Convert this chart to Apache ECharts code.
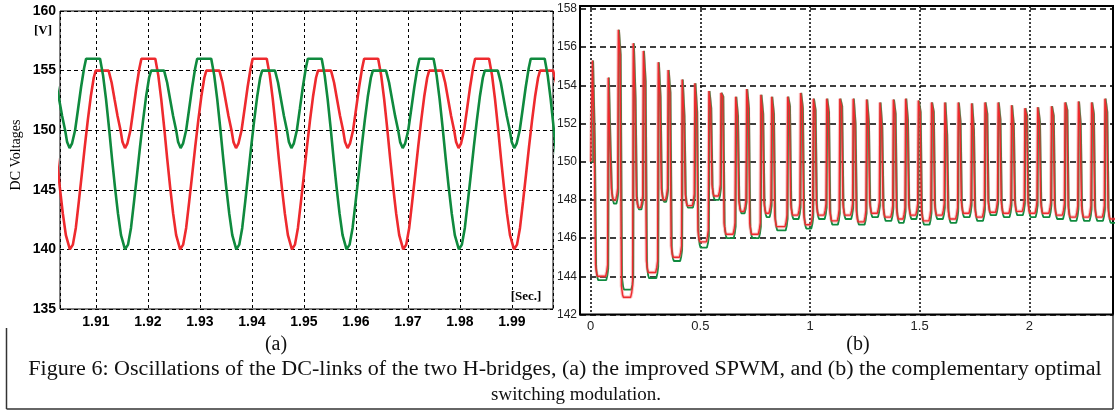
<!DOCTYPE html>
<html>
<head>
<meta charset="utf-8">
<script src="https://cdn.jsdelivr.net/npm/echarts@6/dist/echarts.min.js"></script>
<style>
    html, body { margin: 0; padding: 0; background: #fff; }
    #chart { width: 1115px; height: 413px; }
</style>
</head>
<body>
<div id="chart"></div>
<script>
// (a) improved SPWM - one ripple period,
// offsets in ms after a deep minimum, values in V
const tplOffsetMs = [0, 0.58, 1.15, 1.73, 2.31, 2.88, 3.46, 4.04, 4.62, 5.0,
    7.5, 8.08, 8.65, 9.23, 9.81, 10.19, 10.67,
    11.15, 11.73, 12.31, 12.88, 13.46, 13.85,
    16.54, 17.12, 17.69, 18.27, 18.85, 19.42, 20.0, 20.58, 21.35];
const tplVolt = [140.0, 140.4, 141.8, 144.0, 146.3, 148.6, 150.8, 152.8, 154.4, 155.0,
    155.0, 154.0, 152.6, 151.2, 150.0, 149.0, 148.5,
    148.9, 150.0, 151.8, 153.6, 155.2, 156.0,
    156.0, 154.6, 152.6, 150.2, 147.6, 145.2, 143.0, 141.2, 140.0];
// times of the deep (140 V) minima of each bridge
const redDeepMin = [1.8836, 1.9050, 1.9262, 1.9477, 1.9691, 1.9904, 2.0118];
const greenDeepMin = [1.8943, 1.9156, 1.9370, 1.9582, 1.9798, 2.0011];

// (b) complementary optimal switching - one entry per pulse
const pulseRise = [0.008, 0.080, 0.126, 0.194, 0.240, 0.308, 0.353, 0.417, 0.475, 0.539,
    0.594, 0.661, 0.711, 0.776, 0.825, 0.898, 0.957, 1.015, 1.076, 1.136,
    1.197, 1.258, 1.319, 1.380, 1.436, 1.494, 1.554, 1.615, 1.676, 1.737,
    1.798, 1.858, 1.919, 1.980, 2.038, 2.101, 2.163, 2.224, 2.284, 2.345];
const pulsePeak = [155.3, 154.4, 156.9, 156.2, 155.8, 155.2, 154.8, 154.3, 154.1, 153.7,
    153.6, 153.4, 153.8, 153.5, 153.4, 153.4, 153.6, 153.3, 153.3, 153.3,
    153.3, 153.25, 153.1, 153.25, 153.3, 153.2, 153.1, 153.1, 153.1, 153.05,
    153.1, 153.1, 152.95, 152.8, 152.85, 152.9, 153.1, 153.15, 153.1, 153.3];
const pulseShoulder = [151.2, 150.8, 155.6, 153.3, 154.2, 153.4, 153.6, 152.4, 152.6, 152.8,
    153.4, 152.4, 152.8, 152.5, 152.5, 152.9, 152.8, 152.7, 152.6, 152.9,
    152.0, 152.1, 151.8, 152.5, 152.2, 152.6, 152.6, 151.4, 152.1, 151.7,
    152.5, 152.2, 151.9, 152.4, 152.1, 152.4, 152.7, 152.0, 152.5, 152.6];
const redDip = [144.0, 148.0, 142.9, 147.6, 144.2, 148.0, 145.0, 147.7, 145.8, 148.2,
    146.2, 147.4, 146.2, 147.3, 146.6, 147.2, 146.7, 147.2, 146.9, 147.2,
    146.85, 147.3, 147.1, 147.0, 147.2, 146.9, 147.2, 147.0, 147.3, 147.1,
    147.35, 147.3, 147.4, 147.3, 147.3, 147.2, 147.1, 147.1, 147.1, 147.0];
const greenDip = [143.8, 147.8, 143.3, 147.5, 143.9, 147.9, 144.8, 147.6, 145.5, 148.0,
    146.0, 147.3, 146.0, 147.1, 146.4, 147.0, 146.5, 147.0, 146.7, 147.0,
    146.7, 147.1, 146.9, 146.8, 147.0, 146.7, 147.0, 146.8, 147.1, 146.9,
    147.2, 147.1, 147.2, 147.1, 147.1, 147.0, 146.9, 146.9, 146.9, 146.8];

const RED = '#ee2a2e';
const GREEN = '#0f8a3e';

// lay the read period between each pair of minima
function rippleCurve(minima) {
    const pts = [];
    for (let i = 0; i < minima.length - 1; i++) {
        const a = minima[i];
        const scale = (minima[i + 1] - a) / (tplOffsetMs[tplOffsetMs.length - 1] / 1000);
        for (let j = 0; j < tplOffsetMs.length - 1; j++) {
            pts.push([a + tplOffsetMs[j] / 1000 * scale, tplVolt[j]]);
        }
    }
    pts.push([minima[minima.length - 1], tplVolt[0]]);
    return pts;
}

function pulseTrain(dip, shift) {
    const pts = [[0, 150]];
    for (let i = 0; i < pulseRise.length; i++) {
        const r = pulseRise[i] + shift;
        const next = i + 1 < pulseRise.length ? pulseRise[i + 1] + shift : 2.41;
        const before = i === 0 ? 150 : dip[i - 1] + 0.6;
        pts.push([r, before], [r, pulsePeak[i]], [r + 0.008, pulsePeak[i]],
            [r + 0.008, pulseShoulder[i]], [r + 0.014, pulseShoulder[i]],
            [r + 0.014, dip[i] + 0.6], [r + 0.019, dip[i] + 0.15], [r + 0.023, dip[i]],
            [next - 0.012, dip[i]], [next - 0.007, dip[i] + 0.25], [next - 0.003, dip[i] + 0.6]);
    }
    return pts;
}

const chart = echarts.init(document.getElementById('chart'));

const serifFont = '"Liberation Serif", "Times New Roman", serif';
const sansFont = '"Liberation Sans", Arial, sans-serif';

const option = {
    animation: false,
    backgroundColor: '#fff',
    grid: [
        { left: 60, top: 11, width: 493, height: 298, show: true, borderColor: '#000', borderWidth: 1 },
        { left: 580, top: 6, width: 533, height: 308.5, show: true, borderColor: '#000', borderWidth: 2 }
    ],
    xAxis: [
        {
            gridIndex: 0, type: 'value', min: 1.9031, max: 1.9979,
            splitNumber: 10, minInterval: 0.01, maxInterval: 0.01,
            axisLine: { show: false }, axisTick: { show: false },
            axisLabel: {
                showMinLabel: false, showMaxLabel: false, margin: 6,
                formatter: v => v.toFixed(2),
                fontFamily: sansFont, fontWeight: 'bold', fontSize: 14, color: '#000'
            },
            splitLine: { lineStyle: { color: '#000', type: [3, 3], width: 1 } }
        },
        {
            gridIndex: 1, type: 'value', min: -0.0488, max: 2.3817,
            splitNumber: 5, minInterval: 0.5, maxInterval: 0.5,
            axisLine: { show: false }, axisTick: { show: false },
            axisLabel: {
                showMinLabel: false, showMaxLabel: false, margin: 5,
                fontFamily: sansFont, fontSize: 13, color: '#222'
            },
            splitLine: { lineStyle: { color: '#000', type: [2, 2], width: 1.5 } }
        }
    ],
    yAxis: [
        {
            gridIndex: 0, type: 'value', min: 135, max: 160, interval: 5,
            axisLine: { show: false }, axisTick: { show: false },
            axisLabel: { margin: 4, fontFamily: sansFont, fontWeight: 'bold', fontSize: 14, color: '#000' },
            splitLine: { lineStyle: { color: '#000', type: [4, 3], width: 1 } }
        },
        {
            gridIndex: 1, type: 'value', min: 142, max: 158.15, interval: 2,
            axisLine: { show: false }, axisTick: { show: false },
            axisLabel: { showMaxLabel: false, margin: 3, fontFamily: sansFont, fontSize: 12, color: '#222' },
            splitLine: { lineStyle: { color: '#000', type: [6, 4], width: 1.5 } }
        }
    ],
    series: [
        {
            type: 'line', xAxisIndex: 0, yAxisIndex: 0, data: rippleCurve(redDeepMin),
            showSymbol: false, silent: true, lineStyle: { color: RED, width: 2.6 }
        },
        {
            type: 'line', xAxisIndex: 0, yAxisIndex: 0, data: rippleCurve(greenDeepMin),
            showSymbol: false, silent: true, lineStyle: { color: GREEN, width: 2.6 }
        },
        {
            type: 'line', xAxisIndex: 1, yAxisIndex: 1, data: pulseTrain(greenDip, 0.003),
            showSymbol: false, silent: true, lineStyle: { color: GREEN, width: 1.8 }
        },
        {
            type: 'line', xAxisIndex: 1, yAxisIndex: 1, data: pulseTrain(redDip, 0),
            showSymbol: false, silent: true, lineStyle: { color: 'rgba(240,90,90,0.35)', width: 3.5 }
        },
        {
            type: 'line', xAxisIndex: 1, yAxisIndex: 1, data: pulseTrain(redDip, 0),
            showSymbol: false, silent: true, lineStyle: { color: RED, width: 1.4 }
        }
    ],
    graphic: [
        { type: 'text', x: 43, y: 31, style: { text: '[V]', font: 'bold 13px ' + serifFont, fill: '#000', align: 'center', verticalAlign: 'middle' } },
        { type: 'text', x: 16, y: 155, rotation: Math.PI / 2, style: { text: 'DC Voltages', font: '14px ' + serifFont, fill: '#000', align: 'center', verticalAlign: 'middle' } },
        { type: 'text', x: 526, y: 297, style: { text: '[Sec.]', font: 'bold 13px ' + serifFont, fill: '#000', align: 'center', verticalAlign: 'middle' } },
        { type: 'text', x: 276, y: 345, style: { text: '(a)', font: '20px ' + serifFont, fill: '#111', align: 'center', verticalAlign: 'middle' } },
        { type: 'text', x: 858, y: 345, style: { text: '(b)', font: '20px ' + serifFont, fill: '#111', align: 'center', verticalAlign: 'middle' } },
        { type: 'text', x: 565, y: 370, scaleX: 1.103, style: { text: 'Figure 6: Oscillations of the DC-links of the two H-bridges, (a) the improved SPWM, and (b) the complementary optimal', font: '20px ' + serifFont, fill: '#111', align: 'center', verticalAlign: 'middle' } },
        { type: 'text', x: 576, y: 395, style: { text: 'switching modulation.', font: '19px ' + serifFont, fill: '#111', align: 'center', verticalAlign: 'middle' } },
        { type: 'line', shape: { x1: 6.5, y1: 328, x2: 6.5, y2: 409 }, style: { stroke: '#333', lineWidth: 1.5 } },
        { type: 'line', shape: { x1: 1113, y1: 314, x2: 1113, y2: 409 }, style: { stroke: '#333', lineWidth: 1.5 } },
        { type: 'line', shape: { x1: 6.5, y1: 409, x2: 1113, y2: 409 }, style: { stroke: '#333', lineWidth: 1.5 } }
    ]
};

chart.setOption(option);
</script>
</body>
</html>
